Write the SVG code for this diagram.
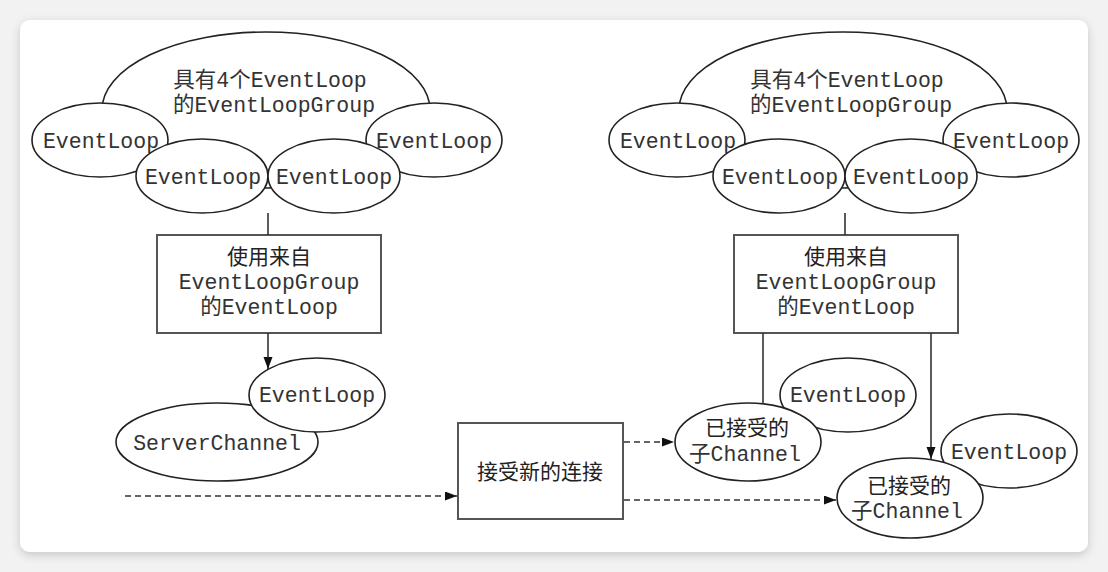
<svg xmlns="http://www.w3.org/2000/svg" width="1108" height="572" viewBox="0 0 1108 572">
<style>
.node{fill:#fff;stroke:#222;stroke-width:1.6}
.box{fill:#fff;stroke:#555;stroke-width:2}
.t{font-family:"Liberation Mono","Noto Sans CJK SC",monospace;font-size:21.5px;fill:#333;text-anchor:middle}
.c{font-family:"Noto Sans CJK SC",sans-serif;font-size:21px;fill:#222;text-anchor:middle}
.ln{fill:none;stroke:#333;stroke-width:1.6}
.dash{fill:none;stroke:#333;stroke-width:1.6;stroke-dasharray:6 4}
</style>
<defs>
<marker id="arr" markerUnits="userSpaceOnUse" markerWidth="13" markerHeight="10" refX="12" refY="4.5" orient="auto">
<path d="M0,0 L12,4.5 L0,9 z" fill="#111"/>
</marker>
<filter id="sh" x="-5%" y="-5%" width="110%" height="115%">
<feDropShadow dx="0" dy="3" stdDeviation="5" flood-color="#000" flood-opacity="0.18"/>
</filter>
</defs>
<rect width="1108" height="572" fill="#f2f2f2"/>
<rect x="20" y="20" width="1068" height="532" rx="10" fill="#fff" filter="url(#sh)"/>

<g id="group-left">
<ellipse class="node" cx="266" cy="110" rx="164" ry="78"/>
<text class="t" x="270" y="87">具有4个EventLoop</text>
<text class="t" x="274" y="112">的EventLoopGroup</text>
</g>
<g id="el-left-1"><ellipse class="node" cx="100" cy="140" rx="68" ry="37"/><text class="t" x="101" y="148">EventLoop</text></g>
<g id="el-left-4"><ellipse class="node" cx="434" cy="140" rx="68" ry="37"/><text class="t" x="434" y="148">EventLoop</text></g>
<g id="el-left-2"><ellipse class="node" cx="202" cy="176" rx="66" ry="37"/><text class="t" x="203" y="184">EventLoop</text></g>
<g id="el-left-3"><ellipse class="node" cx="334" cy="176" rx="66" ry="37"/><text class="t" x="334" y="184">EventLoop</text></g>
<g id="box-left">
<rect class="box" x="157" y="235" width="224" height="98"/>
<text class="c" x="269" y="264">使用来自</text>
<text class="t" x="269" y="289">EventLoopGroup</text>
<text class="t" x="269" y="314">的EventLoop</text>
</g>
<g id="server-channel"><ellipse class="node" cx="217" cy="442" rx="101" ry="39"/><text class="t" x="217" y="450">ServerChannel</text></g>
<g id="el-server"><ellipse class="node" cx="317" cy="395" rx="68" ry="37"/><text class="t" x="317" y="402">EventLoop</text></g>
<g id="box-accept">
<rect class="box" x="458" y="423" width="165" height="96"/>
<text class="c" x="540" y="479">接受新的连接</text>
</g>

<g id="group-right">
<ellipse class="node" cx="843" cy="110" rx="164" ry="78"/>
<text class="t" x="847" y="87">具有4个EventLoop</text>
<text class="t" x="851" y="112">的EventLoopGroup</text>
</g>
<g id="el-right-1"><ellipse class="node" cx="677" cy="140" rx="68" ry="37"/><text class="t" x="678" y="148">EventLoop</text></g>
<g id="el-right-4"><ellipse class="node" cx="1011" cy="140" rx="68" ry="37"/><text class="t" x="1011" y="148">EventLoop</text></g>
<g id="el-right-2"><ellipse class="node" cx="779" cy="176" rx="66" ry="37"/><text class="t" x="780" y="184">EventLoop</text></g>
<g id="el-right-3"><ellipse class="node" cx="911" cy="176" rx="66" ry="37"/><text class="t" x="911" y="184">EventLoop</text></g>
<g id="box-right">
<rect class="box" x="734" y="235" width="224" height="98"/>
<text class="c" x="846" y="264">使用来自</text>
<text class="t" x="846" y="289">EventLoopGroup</text>
<text class="t" x="846" y="314">的EventLoop</text>
</g>
<g id="el-child-1"><ellipse class="node" cx="848" cy="395" rx="68" ry="37"/><text class="t" x="848" y="402">EventLoop</text></g>
<g id="child-1"><ellipse class="node" cx="748" cy="442" rx="73" ry="39"/><text class="c" x="747" y="435">已接受的</text><text class="t" x="745" y="461">子Channel</text></g>
<g id="el-child-2"><ellipse class="node" cx="1009" cy="451" rx="68" ry="37"/><text class="t" x="1009" y="459">EventLoop</text></g>
<g id="child-2"><ellipse class="node" cx="910" cy="498" rx="73" ry="40"/><text class="c" x="909" y="493">已接受的</text><text class="t" x="907" y="518">子Channel</text></g>

<g id="connectors">
<line class="ln" x1="268" y1="213" x2="268" y2="235"/>
<line class="ln" x1="268" y1="333" x2="268" y2="369" marker-end="url(#arr)"/>
<line class="ln" x1="845" y1="213" x2="845" y2="235"/>
<line class="ln" x1="763" y1="333" x2="763" y2="404"/>
<line class="ln" x1="931" y1="333" x2="931" y2="459" marker-end="url(#arr)"/>
<line class="dash" x1="125" y1="496" x2="457" y2="496" marker-end="url(#arr)"/>
<line class="dash" x1="624" y1="442" x2="674" y2="442" marker-end="url(#arr)"/>
<line class="dash" x1="624" y1="500" x2="836" y2="500" marker-end="url(#arr)"/>
</g>
</svg>
